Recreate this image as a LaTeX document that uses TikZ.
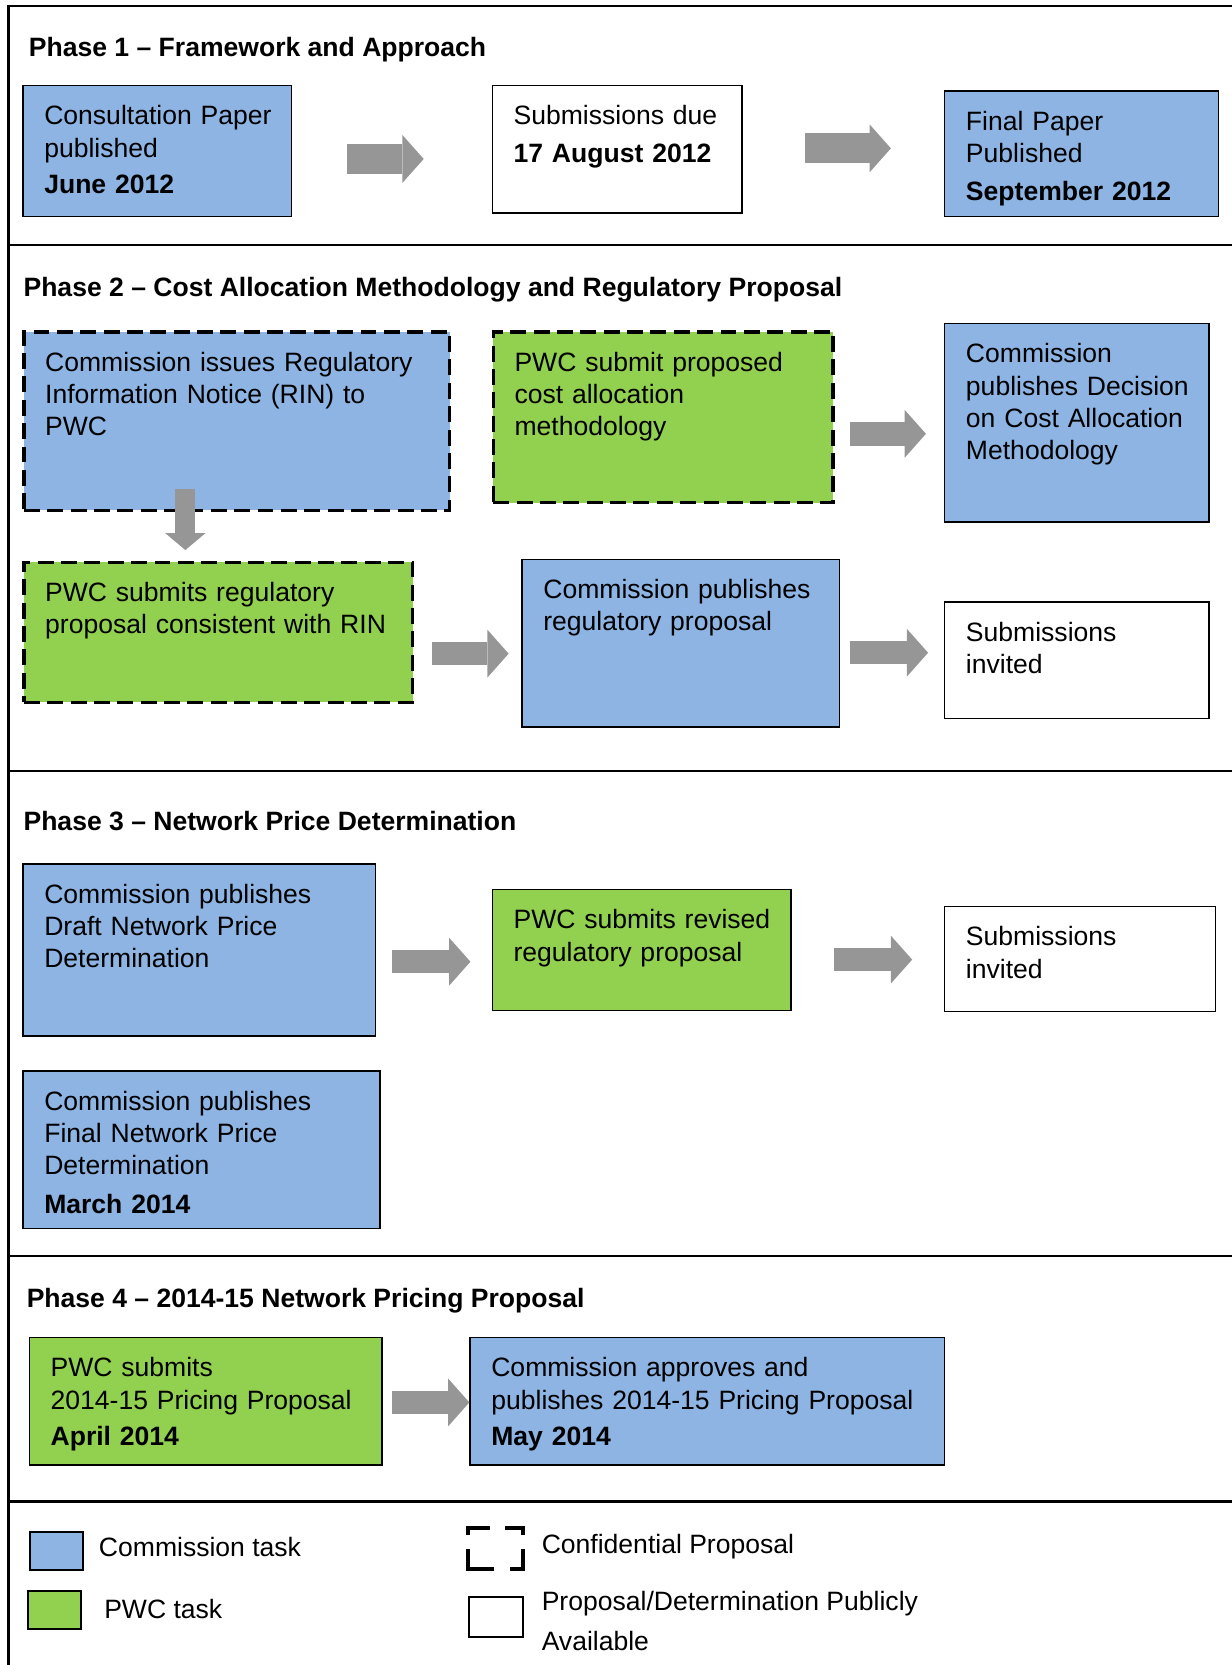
\documentclass[tikz,border=0pt]{standalone}
\usepackage{fontspec}
\setmainfont{Liberation Sans}
\usepackage{tikz}
\usetikzlibrary{arrows.meta}
\definecolor{commblue}{RGB}{141,180,226}
\definecolor{pwcgreen}{RGB}{146,208,80}
\definecolor{arrowgray}{RGB}{150,150,150}
\hyphenpenalty=10000
\exhyphenpenalty=10000
\tikzset{
	task/.style={draw=black, line width=1.4pt, anchor=north west, align=left, inner xsep=20pt, inner ysep=0pt, text height=37pt, font=\fontsize{25}{30.4}\selectfont},
	comm/.style={task, fill=commblue},
	pwc/.style={task, fill=pwcgreen},
	pubbox/.style={task, fill=white},
	conf/.style={line width=3.1pt, dash pattern=on 15pt off 7pt},
	boxsize/.style 2 args={text width=#1pt, text depth=#2pt},
	flow/.style={draw=arrowgray, line width=22pt, -{Triangle[width=45pt,length=20pt,line width=0pt]}},
	title/.style={anchor=base west, inner sep=0pt, font=\fontsize{25}{30}\selectfont\bfseries},
	keytext/.style={anchor=base west, inner sep=0pt, font=\fontsize{25}{30}\selectfont},
	swatch/.style={draw=black, line width=1.9pt, anchor=north west, inner sep=0pt, minimum width=50pt, minimum height=36pt},
}

\begin{document}
\begin{tikzpicture}[x=1pt, y=-1pt]
		%%%%% START %%%%%
		\useasboundingbox (0,0) rectangle (1160,1568);
		
		\draw[line width=1.9pt] (1160,6) -- (8,6) -- (8,1568);
		\draw[line width=1.9pt] (8,231) -- (1160,231);
		\draw[line width=1.9pt] (8,726) -- (1160,726);
		\draw[line width=1.9pt] (8,1183) -- (1160,1183);
		\draw[line width=1.9pt] (8,1414) -- (1160,1414);
		
		% phase 1
		\node[title] (ph1) at (27,53) {Phase 1 -- Framework and Approach};
		\node[comm, boxsize={213}{86}] (a1) at (21,80) {Consultation~Paper\\published\\[4pt]\textbf{June 2012}};
		\node[pubbox, boxsize={195}{83}] (a2) at (463,80) {Submissions~due\\[5pt]\textbf{17 August 2012}};
		\node[comm, boxsize={218}{81}] (a3) at (889,85) {Final Paper\\Published\\[5pt]\textbf{September 2012}};
		
		\draw[flow, line width=28pt, shorten <=51pt, shorten >=64pt] ([yshift=-7.5pt]a1.east) -- ([yshift=-7.5pt]a1.east -| a2.west);
		\draw[flow, line width=28pt, shorten <=59pt, shorten >=50pt] ([yshift=1pt]a2.east) -- ([yshift=1pt]a2.east -| a3.west);
		
		% phase 2
		\node[title] (ph2) at (22,279) {Phase 2 -- Cost Allocation Methodology and Regulatory Proposal};
		\node[comm, conf, boxsize={361}{131}] (b1) at (21,311) {Commission issues Regulatory\\Information Notice (RIN) to\\PWC};
		\node[pwc, conf, boxsize={280}{124}] (b2) at (463,311) {PWC submit proposed\\cost allocation\\methodology};
		\node[comm, boxsize={209}{150}] (b3) at (889,304) {Commission\\publishes~Decision\\on Cost Allocation\\Methodology};
		\node[pwc, conf, boxsize={326}{95}] (b4) at (21,528) {PWC submits regulatory\\proposal consistent with RIN};
		\node[comm, boxsize={259}{121}] (b5) at (491,526) {Commission~publishes\\regulatory proposal};
		\node[pubbox, boxsize={209}{73}] (b6) at (889,566) {Submissions\\invited};
		
		\draw[flow, shorten <=14pt, shorten >=17pt] ([yshift=-15.5pt]b2.east) -- ([yshift=-15.5pt]b2.east -| b3.west);
		\draw[flow, line width=19pt, -{Triangle[width=38pt,length=16pt,line width=0pt]}, shorten >=10pt] ([xshift=-48.5pt,yshift=22pt]b1.south) -- ([xshift=-48.5pt]b1.south |- b4.north);
		\draw[flow, shorten <=17pt, shorten >=12pt] ([yshift=-20pt]b4.east) -- ([yshift=-20pt]b4.east -| b5.west);
		\draw[flow, shorten <=9pt, shorten >=15pt] ([yshift=-9pt]b5.east) -- ([yshift=-9pt]b5.east -| b6.west);
		
		% phase 3
		\node[title] (ph3) at (22,782) {Phase 3 -- Network Price Determination};
		\node[comm, boxsize={292}{125}] (c1) at (21,813) {Commission publishes\\Draft Network Price\\Determination};
		\node[pwc, boxsize={241}{77}] (c2) at (463,837) {PWC~submits~revised\\regulatory proposal};
		\node[pubbox, boxsize={215}{62}] (c3) at (889,853) {Submissions\\invited};
		\node[comm, boxsize={296}{111}] (c4) at (21,1008) {Commission publishes\\Final Network Price\\Determination\\[6pt]\textbf{March 2014}};
		
		\draw[flow, shorten <=15pt, shorten >=20pt] ([yshift=-11pt]c1.east) -- ([yshift=-11pt]c1.east -| c2.west);
		\draw[flow, shorten <=40pt, shorten >=30pt] ([yshift=-9pt]c2.east) -- ([yshift=-9pt]c2.east -| c3.west);
		
		% phase 4
		\node[title] (ph4) at (25,1231) {Phase 4 -- 2014-15 Network Pricing Proposal};
		\node[pwc, boxsize={292}{83}] (d1) at (27,1259) {PWC submits\\2014-15~Pricing~Proposal\\[4pt]\textbf{April 2014}};
		\node[comm, boxsize={407}{83}] (d2) at (442,1259) {Commission approves and\\publishes 2014-15 Pricing Proposal\\[4pt]\textbf{May 2014}};
		
		\draw[flow, shorten <=9pt] ([yshift=-1pt]d1.east) -- ([yshift=-1pt]d1.east -| d2.west);
		
		% legend
		\node[swatch, fill=commblue] (keycomm) at (27,1442) {};
		\node[swatch, fill=pwcgreen] (keypwc) at (25,1497) {};
		\node[swatch, fill=white, minimum width=51pt, minimum height=38pt] (keypub) at (441,1503) {};
		\node[anchor=north west, inner sep=0pt, minimum width=51pt, minimum height=38pt] (keyconf) at (441,1439) {};
		\draw[line width=3.8pt] ([yshift=-7pt]keyconf.north west) -- (keyconf.north west) -- ([xshift=20pt]keyconf.north west);
		\draw[line width=3.8pt] ([xshift=-17pt]keyconf.north east) -- (keyconf.north east) -- ([yshift=-7pt]keyconf.north east);
		\draw[line width=3.8pt] ([yshift=19pt]keyconf.south west) -- (keyconf.south west) -- ([xshift=24pt]keyconf.south west);
		\draw[line width=3.8pt] ([xshift=-12pt]keyconf.south east) -- (keyconf.south east) -- ([yshift=19pt]keyconf.south east);
		
		\node[keytext] (lblcomm) at (93,1466) {Commission task};
		\node[keytext] (lblpwc) at (98,1524) {PWC task};
		\node[keytext] (lblconf) at (510,1463) {Confidential Proposal};
		\node[keytext] (lblpub) at (510,1517) {Proposal/Determination Publicly};
		\node[keytext] (lblavail) at (510,1554) {Available};
		%%%%% END %%%%%
\end{tikzpicture}
\end{document}
